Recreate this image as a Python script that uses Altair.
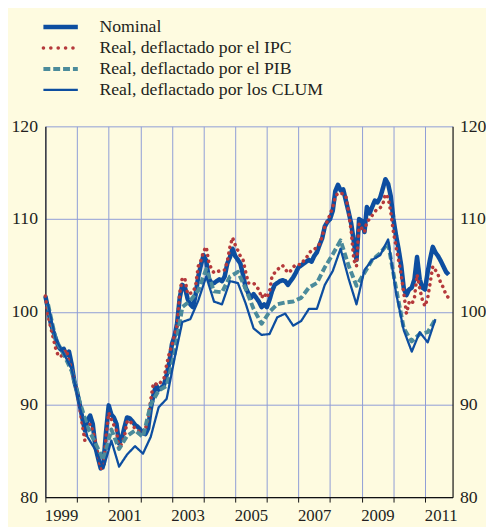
import altair as alt
import pandas as pd

# ---------------- data ----------------
series_names = [
    "Nominal",
    "Real, deflactado por el IPC",
    "Real, deflactado por el PIB",
    "Real, deflactado por los CLUM",
]

# monthly series, Jan 1999 .. Oct 2011
monthly_dates = [d.strftime("%Y-%m-%d") for d in pd.date_range("1999-01-01", periods=154, freq="MS")]
nominal = [
    101.7, 100.3, 98.9, 97.9, 97.1, 96.2, 95.9, 96.0, 95.3, 95.7, 94.3, 92.5,
    91.4, 90.0, 88.6, 87.2, 88.3, 88.8, 87.9, 85.4, 84.2, 83.1, 83.6, 87.0,
    89.9, 88.9, 88.6, 87.9, 85.8, 86.3, 87.5, 88.6, 88.5, 88.2, 87.8, 87.6,
    87.3, 86.9, 86.8, 87.4, 89.5, 91.0, 92.1, 91.6, 91.8, 92.1, 93.2, 94.5,
    96.5, 97.4, 98.7, 101.5, 102.9, 102.6, 101.4, 100.8, 100.5, 101.8, 103.8, 105.0,
    106.1, 105.5, 103.6, 103.1, 103.1, 103.3, 103.5, 103.3, 103.8, 105.2, 105.9, 106.8,
    106.0, 105.6, 105.2, 104.0, 102.6, 102.0, 101.5, 101.9, 101.5, 101.1, 100.5, 100.8,
    100.5, 101.3, 102.2, 102.9, 103.1, 103.3, 103.4, 103.3, 102.9, 103.3, 103.7, 104.2,
    104.8, 105.0, 105.2, 105.4, 105.6, 105.4, 106.0, 106.4, 107.2, 107.9, 109.2, 109.7,
    110.0, 110.9, 113.0, 113.7, 113.1, 113.2, 112.0, 110.8, 109.5, 107.6, 105.6, 110.0,
    109.8, 108.6, 111.3, 110.6, 111.3, 112.0, 111.8, 112.3, 113.3, 114.3, 113.8, 112.5,
    110.0, 108.2, 106.8, 105.0, 102.5, 101.8, 102.4, 102.6, 103.5, 105.9, 103.5, 102.6,
    102.4, 104.3, 105.7, 107.0, 106.4, 106.0, 105.5, 104.9, 104.3, 104.0,
]
ipc = [
    101.7, 99.6, 98.4, 97.2, 96.0, 95.2, 95.2, 95.5, 95.9, 94.6, 93.9, 92.5,
    91.4, 89.7, 87.9, 86.1, 87.5, 87.9, 87.2, 86.0, 84.5, 83.1, 83.1, 86.5,
    89.1, 88.4, 87.8, 87.2, 85.2, 85.8, 86.5, 88.1, 88.3, 87.8, 87.4, 87.2,
    87.0, 86.9, 87.4, 88.4, 90.5, 92.3, 92.2, 92.1, 92.5, 92.8, 94.3, 95.5,
    96.4, 97.5, 98.5, 102.0, 103.7, 103.5, 101.9, 102.0, 102.1, 102.8, 104.9, 105.5,
    106.5, 107.0, 105.4, 104.6, 104.2, 104.3, 104.4, 104.5, 104.5, 105.4, 107.0, 108.0,
    107.2, 106.6, 106.0, 105.6, 104.3, 103.1, 103.1, 103.1, 102.7, 102.4, 101.5, 102.0,
    101.5, 102.2, 103.8, 104.2, 104.5, 104.8, 105.0, 104.6, 104.2, 104.4, 104.8, 105.1,
    105.1, 105.1, 105.5, 105.8, 106.3, 106.6, 106.7, 107.0, 107.3, 108.1, 109.2, 109.8,
    110.5, 111.3, 112.4, 112.8, 112.8, 112.7, 112.5, 110.8, 108.7, 105.6, 104.9, 109.5,
    109.0, 108.6, 109.7, 110.0, 110.4, 110.8, 111.1, 111.2, 111.6, 112.7, 112.3, 110.8,
    108.6, 107.0, 105.6, 104.0, 102.0, 99.8, 101.0, 100.8, 101.5, 104.0, 102.5, 101.3,
    100.6, 101.5, 103.1, 104.9, 104.5, 104.0, 103.1, 102.6, 101.8, 101.5,
]

# quarterly series, Q1 1999 .. Q2 2011
quarterly_dates = [d.strftime("%Y-%m-%d") for d in pd.date_range("1999-02-01", periods=50, freq="3MS")]
pib = [
    100.8, 97.0, 95.4, 93.6, 90.3, 87.6, 85.8, 84.0, 87.3, 85.2,
    86.6, 87.2, 86.5, 90.0, 91.5, 92.0, 95.5, 100.5, 101.2, 102.3,
    104.6, 102.2, 102.1, 103.8, 104.3, 102.5, 100.3, 98.7, 100.0, 100.8,
    101.0, 101.1, 101.5, 102.6, 103.1, 104.8, 106.2, 107.7, 105.0, 102.8,
    104.2, 105.6, 106.3, 107.4, 102.5, 98.2, 96.8, 97.6, 97.8, 99.2,
]
clum = [
    100.8, 97.0, 95.5, 93.8, 89.8, 86.5, 85.1, 83.1, 86.1, 83.3,
    84.6, 85.5, 84.7, 86.5, 89.7, 90.6, 95.0, 98.9, 99.2, 101.2,
    103.8, 101.1, 100.8, 103.3, 103.1, 100.9, 98.2, 97.5, 97.6, 99.4,
    99.8, 98.5, 99.0, 100.3, 100.3, 102.9, 104.4, 106.8, 103.6, 100.8,
    104.5, 105.6, 106.1, 107.8, 102.0, 98.0, 95.7, 97.8, 96.7, 99.2,
]

y_ticks = [80, 90, 100, 110, 120]
year_starts = list(range(1999, 2012))

# ---------------- tables ----------------
frames = []
for name, dates, vals in [
    (series_names[0], monthly_dates, nominal),
    (series_names[1], monthly_dates, ipc),
    (series_names[2], quarterly_dates, pib),
    (series_names[3], quarterly_dates, clum),
]:
    frames.append(pd.DataFrame({"date": dates, "value": vals, "series": name}))
df = pd.concat(frames, ignore_index=True)
legend_df = pd.DataFrame({"series": series_names})

# ---------------- style ----------------
BG = "#FEFBE0"
GRID = "#8E9CD6"
TXT = "#231F20"
FONT = "Liberation Serif"
BLUE = "#0D4EA0"
RED = "#B5393B"
TEAL = "#4B8B9B"

styles = {
    series_names[0]: dict(color=BLUE, strokeWidth=4.6, strokeDash=[1, 0], strokeCap="butt"),
    series_names[1]: dict(color=RED, strokeWidth=3.6, strokeDash=[0.1, 5.9], strokeCap="round"),
    series_names[2]: dict(color=TEAL, strokeWidth=4.0, strokeDash=[7, 3], strokeCap="butt"),
    series_names[3]: dict(color=BLUE, strokeWidth=2.3, strokeDash=[1, 0], strokeCap="butt"),
}
legend_dash = {series_names[1]: [0.1, 7.4]}

tick_values = [alt.DateTime(year=y, month=1, date=1, utc=True) for y in year_starts] + \
              [alt.DateTime(year=y, month=7, date=1, utc=True) for y in year_starts]

x_axis = alt.Axis(
    values=tick_values, title=None, grid=True, gridColor=GRID, gridWidth=1,
    gridOpacity={"condition": {"test": "utcmonth(datum.value) === 0", "value": 1}, "value": 0},
    tickOpacity={"condition": {"test": "utcmonth(datum.value) === 0", "value": 1}, "value": 0},
    tickSize=5, tickColor="#111", domainColor="#111", domainWidth=1.2,
    labelExpr="utcmonth(datum.value) === 6 && utcyear(datum.value) % 2 === 1 ? utcFormat(datum.value, '%Y') : ''",
    labelFont=FONT, labelFontSize=17, labelColor=TXT, labelPadding=6,
    labelOverlap=False, labelFlush=False, labelBound=False,
)
x_enc = alt.X("date:T", axis=x_axis,
              scale=alt.Scale(type="utc", domain=[alt.DateTime(year=1999, month=1, date=1, utc=True),
                                                  alt.DateTime(year=2011, month=11, date=15, utc=True)]))

y_scale = alt.Scale(domain=[80, 120], nice=False, zero=False)
left_axis = alt.Axis(orient="left", values=y_ticks, title=None, grid=True, gridColor=GRID, gridWidth=1,
                     ticks=False, domainColor="#111", domainWidth=1.2, labelFont=FONT, labelFontSize=18,
                     labelColor=TXT, labelPadding=8)
right_axis = alt.Axis(orient="right", values=y_ticks, title=None, grid=False,
                      ticks=False, domainColor="#111", domainWidth=1.2, labelFont=FONT, labelFontSize=18,
                      labelColor=TXT, labelPadding=7)

base = alt.Chart(df)

# legend rows placed by a point scale on the series names (pixel range above the plot)
legend_y = alt.Y("series:N", axis=None,
                 scale=alt.Scale(type="point", domain=series_names, range=[-101, -37], padding=0))

layers = []
for i, name in enumerate(series_names):
    st = styles[name]
    layers.append(
        base.transform_filter(alt.datum.series == name).mark_line(strokeJoin="round", **st).encode(
            x=x_enc, y=alt.Y("value:Q", scale=y_scale, axis=left_axis if i == 0 else None)
        )
    )

# right-hand axis
layers.append(
    base.transform_filter(alt.datum.series == series_names[0]).mark_line(strokeOpacity=0).encode(
        x=x_enc, y=alt.Y("value:Q", scale=y_scale, axis=right_axis)
    )
)

# legend symbols
for name in series_names:
    st = dict(styles[name])
    if name in legend_dash:
        st["strokeDash"] = legend_dash[name]
    layers.append(
        alt.Chart(legend_df).transform_filter(alt.datum.series == name).mark_rule(**st).encode(
            x=alt.value(-2), x2=alt.value(33), y=legend_y
        )
    )

# legend labels
layers.append(
    alt.Chart(legend_df).mark_text(align="left", baseline="middle", font=FONT, fontSize=18, color=TXT).encode(
        x=alt.value(55), y=legend_y, text="series:N"
    )
)

chart = alt.layer(*layers).resolve_scale(y="independent").resolve_axis(y="independent").properties(
    width=414, height=377, background=BG,
    padding={"left": 38, "top": 116, "right": 34, "bottom": 26},
    autosize=alt.AutoSizeParams(type="none"),
).configure_view(stroke=None)

chart.save("out.html", embed_options={"renderer": "svg", "actions": False})
